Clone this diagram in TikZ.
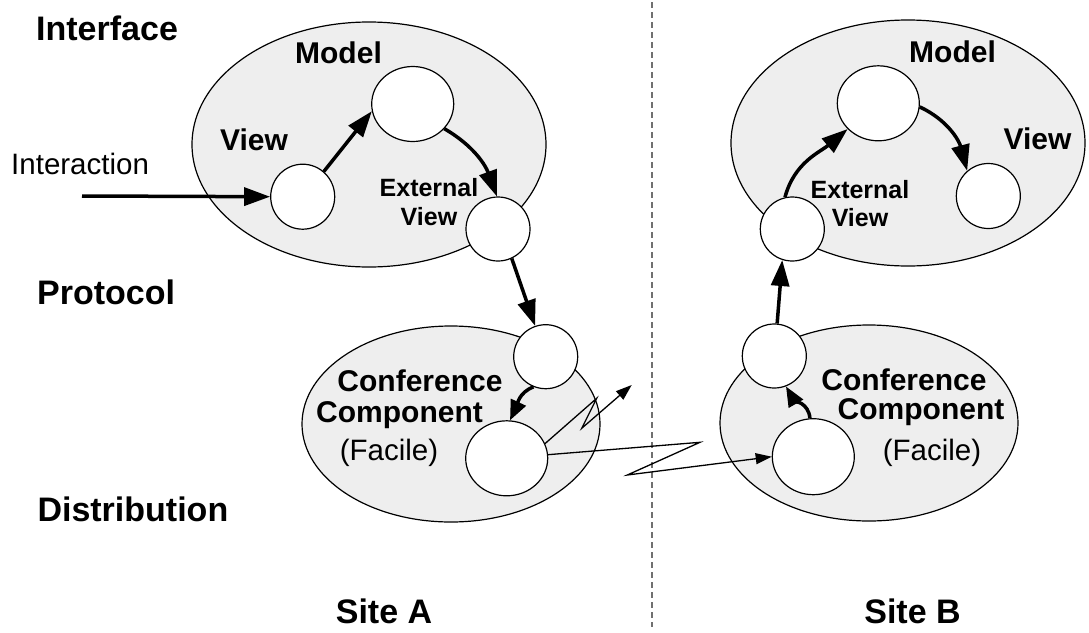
\documentclass[tikz,border=0pt]{standalone}
\usepackage{fontspec}
\setmainfont{Liberation Sans}
\usetikzlibrary{arrows.meta,shapes.geometric}
\definecolor{shade}{HTML}{EEEEEE}
\definecolor{sepgray}{HTML}{707070}
\begin{document}
\begin{tikzpicture}[x=1pt,y=1pt,
  region/.style={ellipse, draw, line width=1.2pt, fill=shade, inner sep=0pt},
  comp/.style={ellipse, draw, line width=1.2pt, fill=white, inner sep=0pt},
  layer/.style={font=\fontsize{34}{40}\selectfont\bfseries, anchor=base west, inner sep=0pt},
  lbl/.style={font=\fontsize{30}{34}\selectfont\bfseries, anchor=base, inner sep=0pt},
  small/.style={font=\fontsize{25}{28.5}\selectfont\bfseries, align=center, anchor=base, inner sep=0pt},
  plain/.style={font=\fontsize{29.5}{34}\selectfont, anchor=base, inner sep=0pt},
  flow/.style={line width=3.5pt, -{Triangle[length=26pt,width=18pt]}},
  hook/.style={line width=3.5pt, -{Triangle[length=20pt,width=16pt]}},
  signal/.style={line width=1.3pt, -{Triangle[length=16pt,width=11pt]}},
  divider/.style={draw=sepgray, line width=1.3pt, dash pattern=on 6pt off 4pt}]
\useasboundingbox (0,0) rectangle (1089,-632);

% divider
\coordinate (divTop) at (652,-2);
\coordinate (divBot) at (652,-627);
\draw[divider] (divTop) -- (divBot);

% regions
\node[region, minimum width=354pt, minimum height=245pt] (ifA) at (369,-144.5) {};
\node[region, minimum width=354pt, minimum height=246pt] (ifB) at (908,-143) {};
\node[region, minimum width=298pt, minimum height=196pt] (ccA) at (451,-424) {};
\node[region, minimum width=298pt, minimum height=196pt] (ccB) at (869,-423) {};

% components
\node[comp, minimum width=82pt, minimum height=75pt] (mA) at (412.7,-104) {};
\node[comp, minimum width=64pt, minimum height=65pt] (vA) at (302.7,-196.7) {};
\node[comp, minimum width=64pt, minimum height=64pt] (eA) at (498,-229) {};
\node[comp, minimum width=64pt, minimum height=64pt] (pA) at (545.7,-356.7) {};
\node[comp, minimum width=82pt, minimum height=75pt] (cA) at (506.7,-458.3) {};
\node[comp, minimum width=82pt, minimum height=75pt] (mB) at (878.3,-103.3) {};
\node[comp, minimum width=64pt, minimum height=65pt] (vB) at (988.3,-196) {};
\node[comp, minimum width=64pt, minimum height=64pt] (eB) at (792.3,-229) {};
\node[comp, minimum width=64pt, minimum height=64pt] (pB) at (774.3,-356) {};
\node[comp, minimum width=82pt, minimum height=76pt] (cB) at (813.3,-456.7) {};

% layer labels
\node[layer] (lInterface) at (36,-40.7) {Interface};
\node[layer] (lProtocol) at (37,-304) {Protocol};
\node[layer] (lDistribution) at (37.3,-521) {Distribution};
\node[layer, anchor=base] (lSiteA) at (384,-623) {Site A};
\node[layer, anchor=base] (lSiteB) at (912.5,-623) {Site B};
\node[plain, anchor=base west] (lInteraction) at (11,-174) {Interaction};

% component labels
\node[lbl] (tModelA) at (338.5,-63.3) {Model};
\node[lbl] (tModelB) at (952.5,-62.7) {Model};
\node[lbl] (tViewA) at (254,-150) {View};
\node[lbl] (tViewB) at (1037.5,-149.3) {View};
\node[small] (tExtA) at (429,-225) {External\\View};
\node[small] (tExtB) at (860,-226.7) {External\\View};
\node[lbl] (tConfA) at (420,-391.7) {Conference};
\node[lbl] (tCompA) at (399.5,-422.7) {Component};
\node[plain] (tFacA) at (389,-460.7) {(Facile)};
\node[lbl] (tConfB) at (904,-390.7) {Conference};
\node[lbl] (tCompB) at (921,-419.3) {Component};
\node[plain] (tFacB) at (932,-460) {(Facile)};

% flows site A
\coordinate (inStart) at (82,-196);
\draw[flow] (inStart) -- (vA.west);
\draw[flow] (vA.50) -- (mA.190);
\draw[flow] (mA.-38) to[out=-30,in=110] (eA.92);
\draw[flow] (eA.-65) -- (pA.109);
\draw[hook] (pA.-112) to[out=200,in=65] (cA.85);

% flows site B
\draw[hook] (cB.95) to[out=95,in=-60] (pB.-69);
\draw[flow] (pB.85) -- (eB.-108);
\draw[flow] (eB.103) to[out=75,in=-140] (mB.-140);
\draw[flow] (mB.-5) to[out=-25,in=105] (vB.130);

% network signals
\coordinate (outA) at (631.7,-385);
\draw[signal] (cA.21) -- (596.7,-398.3) -- (581.7,-428.3) -- (outA);
\draw[signal] (cA.5) -- (700,-442.3) -- (627.3,-475) -- (cB.west);
\end{tikzpicture}
\end{document}
